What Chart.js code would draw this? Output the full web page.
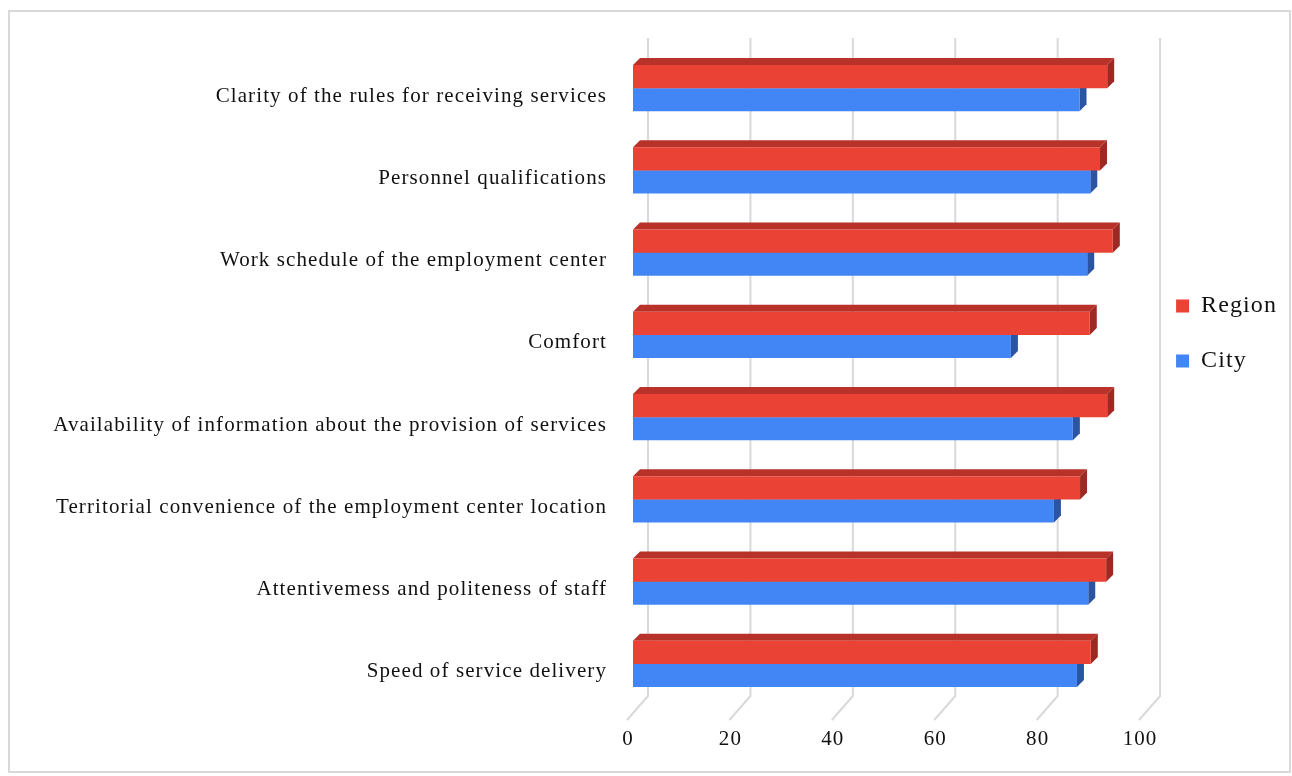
<!DOCTYPE html>
<html lang="en">

<head>
    <meta charset="UTF-8">
    <title>Service satisfaction: Region vs City</title>
    <script src="https://cdn.jsdelivr.net/npm/chart.js"></script>
    <style>
        body { margin: 0; background: #fff; }
        .frame {
            position: absolute; left: 8px; top: 10px;
            width: 1279px; height: 759px;
            border: 2px solid #d9d9d9;
        }
        .chart-box { position: absolute; left: 0; top: 0; width: 1292px; height: 776px; }
    </style>
</head>

<body>
    <div class="frame"></div>
    <div class="chart-box">
        <canvas id="serviceChart"></canvas>
    </div>

    <script>
        const categories = [
            'Clarity of the rules for receiving services',
            'Personnel qualifications',
            'Work schedule of the employment center',
            'Comfort',
            'Availability of information about the provision of services',
            'Territorial convenience of the employment center location',
            'Attentivemess and politeness of staff',
            'Speed of service delivery'
        ];
        const regionValues = [92.6, 91.2, 93.7, 89.2, 92.6, 87.3, 92.4, 89.4];
        const cityValues = [87.2, 89.3, 88.7, 73.8, 85.9, 82.2, 88.9, 86.7];
        const xTicks = [0, 20, 40, 60, 80, 100];

        // colours for the fake 3d faces
        const faces = [
            { top: '#b8322a', side: '#9c2a23' },
            { top: '#3567c0', side: '#2b55a3' }
        ];
        const depth = 7;

        // the original text is set a little loose (Word rendering)
        const loose = {
            id: 'loose',
            beforeUpdate(chart) { chart.ctx.letterSpacing = '1.1px'; },
            beforeDraw(chart) { chart.ctx.letterSpacing = '1.1px'; }
        };

        const threeD = {
            id: 'threeD',
            beforeDatasetsDraw(chart) {
                const ctx = chart.ctx;
                const area = chart.chartArea;
                const xs = chart.scales.x;

                // back wall grid lines + floor diagonals
                ctx.save();
                ctx.strokeStyle = '#d9d9d9';
                ctx.lineWidth = 2;
                xTicks.forEach(v => {
                    const px = xs.getPixelForValue(v);
                    ctx.beginPath();
                    ctx.moveTo(px + 15, area.top - 9);
                    ctx.lineTo(px + 15, area.bottom - 9);
                    ctx.lineTo(px - 6, area.bottom + 15);
                    ctx.stroke();
                });
                ctx.restore();

                // top and right faces, drawn before the front faces
                ctx.save();
                chart.data.datasets.forEach((ds, i) => {
                    const meta = chart.getDatasetMeta(i);
                    meta.data.forEach(bar => {
                        const { x, y, base, height } = bar.getProps(['x', 'y', 'base', 'height'], true);
                        const t = y - height / 2;
                        const b = y + height / 2;
                        ctx.fillStyle = faces[i].top;
                        ctx.beginPath();
                        ctx.moveTo(base, t);
                        ctx.lineTo(base + depth, t - depth);
                        ctx.lineTo(x + depth, t - depth);
                        ctx.lineTo(x, t);
                        ctx.closePath();
                        ctx.fill();
                        ctx.fillStyle = faces[i].side;
                        ctx.beginPath();
                        ctx.moveTo(x, t);
                        ctx.lineTo(x + depth, t - depth);
                        ctx.lineTo(x + depth, b - depth);
                        ctx.lineTo(x, b);
                        ctx.closePath();
                        ctx.fill();
                    });
                });
                ctx.restore();
            }
        };

        const serif = 'Liberation Serif, Times New Roman, serif';

        new Chart(document.getElementById('serviceChart'), {
            type: 'bar',
            data: {
                labels: categories,
                datasets: [{
                    label: 'Region',
                    data: regionValues,
                    backgroundColor: '#ea4335'
                }, {
                    label: 'City',
                    data: cityValues,
                    backgroundColor: '#4285f4'
                }]
            },
            options: {
                indexAxis: 'y',
                responsive: true,
                maintainAspectRatio: false,
                animation: false,
                categoryPercentage: 0.56,
                barPercentage: 1.0,
                layout: {
                    padding: { top: 47, right: 5, bottom: 0, left: 0 }
                },
                plugins: {
                    tooltip: { enabled: false },
                    legend: {
                        position: 'right',
                        align: 'start',
                        title: {
                            display: true,
                            text: ' ',
                            font: { size: 10 },
                            padding: { top: 0, bottom: 204 }
                        },
                        labels: {
                            boxWidth: 13,
                            boxHeight: 13,
                            padding: 31,
                            color: '#111',
                            font: { family: serif, size: 24 }
                        }
                    }
                },
                scales: {
                    x: {
                        min: 0,
                        max: 100,
                        afterFit(scale) { scale.height = 71; },
                        afterBuildTicks(scale) { scale.ticks = xTicks.map(v => ({ value: v })); },
                        grid: { display: false, drawTicks: false },
                        border: { display: false },
                        ticks: {
                            padding: 22,
                            labelOffset: -5,
                            color: '#111',
                            font: { family: serif, size: 21 }
                        }
                    },
                    y: {
                        afterFit(scale) { scale.width = 633; },
                        grid: { display: false, drawTicks: false },
                        border: { display: false },
                        ticks: {
                            padding: 26,
                            labelOffset: 8,
                            color: '#111',
                            font: { family: serif, size: 21 }
                        }
                    }
                }
            },
            plugins: [loose, threeD]
        });
    </script>
</body>

</html>
